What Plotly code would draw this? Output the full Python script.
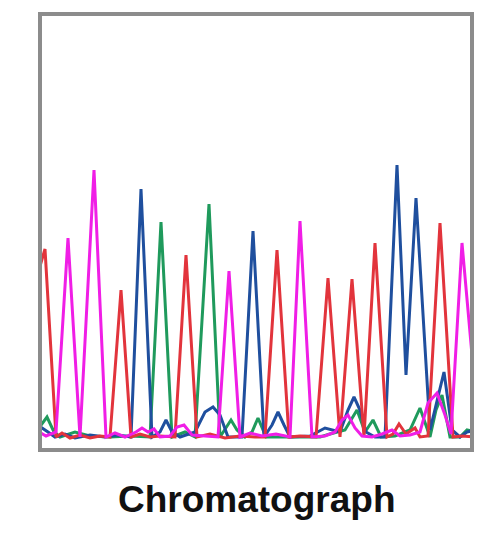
import plotly.graph_objects as go

# Scan positions and signal intensities (arbitrary units)
red_scan = [36, 45, 56, 62, 70, 80, 90, 100, 110, 121, 131, 140, 150, 160, 175, 186, 197, 210, 225, 240, 255, 265, 277, 289, 300, 316, 328, 340, 352, 364, 375, 387, 393, 399, 406, 411, 415, 420, 428, 440, 453, 462, 476]
red_int = [160, 191, 3, 7, 2, 5, 2, 4, 3, 150, 3, 6, 3, 4, 3, 185, 3, 6, 2, 4, 3, 3, 190, 3, 4, 3, 162, 3, 161, 3, 197, 3, 6, 16, 6, 9, 12, 3, 4, 217, 3, 4, 3]

mag_scan = [36, 46, 56, 68, 80, 94, 106, 115, 125, 136, 142, 148, 154, 160, 170, 177, 184, 192, 205, 218, 229, 240, 250, 262, 276, 290, 300, 312, 325, 335, 342, 348, 355, 362, 372, 382, 392, 400, 410, 420, 428, 437, 445, 451, 462, 476]
mag_int = [10, 4, 8, 202, 3, 270, 3, 7, 3, 8, 12, 8, 11, 3, 4, 13, 15, 5, 4, 3, 169, 3, 7, 4, 6, 3, 219, 3, 4, 8, 20, 25, 12, 4, 3, 6, 10, 4, 5, 8, 37, 47, 25, 6, 197, 40]

blue_scan = [36, 42, 48, 55, 65, 75, 90, 105, 118, 131, 141, 152, 160, 166, 172, 180, 195, 205, 213, 220, 228, 242, 253, 264, 272, 278, 284, 290, 310, 325, 340, 348, 354, 360, 366, 375, 385, 397, 406, 416, 430, 437, 444, 452, 460, 467, 476]
blue_int = [6, 12, 8, 3, 6, 2, 5, 3, 5, 3, 251, 3, 8, 20, 8, 3, 8, 28, 33, 25, 3, 3, 209, 3, 15, 28, 15, 3, 4, 12, 8, 30, 43, 30, 8, 3, 3, 275, 65, 242, 10, 40, 68, 10, 3, 8, 10]

green_scan = [36, 41, 47, 54, 60, 75, 90, 110, 130, 150, 161, 172, 185, 195, 209, 220, 226, 231, 237, 245, 252, 258, 266, 290, 320, 330, 345, 357, 365, 373, 381, 395, 410, 420, 430, 436, 442, 450, 460, 467, 476]
green_int = [8, 15, 23, 8, 3, 8, 4, 3, 4, 3, 218, 3, 8, 3, 236, 3, 12, 20, 10, 3, 8, 22, 3, 3, 3, 6, 10, 30, 8, 20, 3, 4, 10, 32, 3, 30, 45, 3, 3, 10, 8]

series = [
    ("G", green_scan, green_int, "#1f9a5c"),
    ("T", blue_scan, blue_int, "#1f4f9e"),
    ("A", red_scan, red_int, "#e2343c"),
    ("C", mag_scan, mag_int, "#f01ee6"),
]

fig = go.Figure()
for name, xs, ys, col in series:
    fig.add_trace(go.Scatter(x=xs, y=ys, mode="lines", name=name,
                             line=dict(color=col, width=3), hoverinfo="skip"))

fig.update_xaxes(range=[40, 472], visible=False, showgrid=False, zeroline=False)
fig.update_yaxes(range=[-10, 426], visible=False, showgrid=False, zeroline=False)

fig.add_shape(type="rect", xref="paper", yref="paper", x0=0, y0=0, x1=1, y1=1,
              line=dict(color="#8c8c8c", width=4), layer="above")

fig.add_annotation(text="<b>Chromatograph</b>", xref="paper", yref="paper",
                   x=0.503, y=-0.113, xanchor="center", yanchor="middle",
                   showarrow=False,
                   font=dict(family="Liberation Sans, Arial, sans-serif", size=37, color="#111111"))

fig.update_layout(width=480, height=526, showlegend=False,
                  margin=dict(l=32, r=16, t=6, b=84),
                  paper_bgcolor="white", plot_bgcolor="white")

fig.write_html("out.html")
